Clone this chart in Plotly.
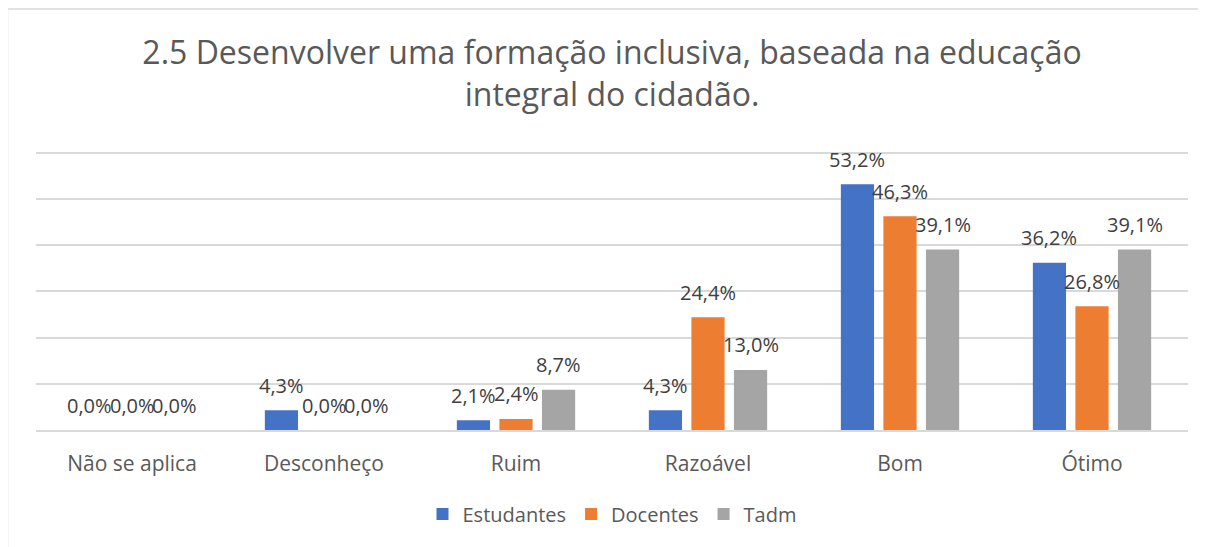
import plotly.graph_objects as go

categories = ["Não se aplica", "Desconheço", "Ruim", "Razoável", "Bom", "Ótimo"]
estudantes = [0.0, 4.3, 2.1, 4.3, 53.2, 36.2]
docentes = [0.0, 0.0, 2.4, 24.4, 46.3, 26.8]
tadm = [0.0, 0.0, 8.7, 13.0, 39.1, 39.1]
series_names = ["Estudantes", "Docentes", "Tadm"]
colors = ["#4472C4", "#ED7D31", "#A5A5A5"]
title_text = "2.5 Desenvolver uma formação inclusiva, baseada na educação<br>integral do cidadão."

# the page body adds an 8px offset, so the figure is 8px smaller
OFF = 8
W, H = 1206 - OFF, 547 - OFF
Y_TOP = 60          # top gridline value
Y_MAX = 61.5        # axis range top (so top gridline is drawn)
GRID_H = 277        # px between 0 and 60 gridlines
ML, MR, MB = 36 - OFF, 18, 117
MT = (153 - OFF) - GRID_H * (Y_MAX - Y_TOP) / Y_TOP
BARGAP = 0.335
BARGROUPGAP = 0.22
FONT = "Open Sans"

fig = go.Figure()
all_series = [estudantes, docentes, tadm]
for name, vals, col in zip(series_names, all_series, colors):
    fig.add_trace(go.Bar(x=categories, y=vals, name=name, marker_color=col,
                         marker_line_width=0))

# data labels
plot_w = W - ML - MR
plot_h = H - MT - MB
cat_w = plot_w / len(categories)
slot = cat_w * (1 - BARGAP) / 3
for i, vals in enumerate(all_series):
    for c, v in zip(categories, vals):
        fig.add_annotation(x=c, y=v, xref="x", yref="y",
                           text=f"{v:.1f}%".replace(".", ","),
                           showarrow=False, xshift=(i - 1) * slot, yshift=25,
                           yanchor="middle",
                           font=dict(family=FONT, size=20, color="#404040"))

# chart frame
fx = (7.5 - OFF - ML) / plot_w
fy = 1 + (MT - (9 - OFF)) / plot_h
fig.add_shape(type="line", xref="paper", yref="paper",
              x0=fx, x1=fx, y0=fy, y1=-0.6,
              line=dict(color="#D9D9D9", width=1.5))
fig.add_shape(type="line", xref="paper", yref="paper",
              x0=fx, x1=1.1, y0=fy, y1=fy,
              line=dict(color="#D9D9D9", width=1.5))

fig.update_layout(
    width=W, height=H,
    margin=dict(l=ML, r=MR, t=MT, b=MB),
    paper_bgcolor="white", plot_bgcolor="white",
    barmode="group", bargap=BARGAP, bargroupgap=BARGROUPGAP,
    title=dict(text=title_text, x=(ML + plot_w / 2) / W, xanchor="center",
               y=1 - 56 / H, yanchor="middle",
               font=dict(family=FONT, size=32, color="#595959")),
    legend=dict(orientation="h", x=0.5, xanchor="center",
                y=-(514 - 430) / plot_h, yanchor="middle",
                font=dict(family=FONT, size=20, color="#595959"),
                traceorder="normal"),
    showlegend=True,
)
fig.update_xaxes(showgrid=False, showline=True, linecolor="#D9D9D9", linewidth=1.5,
                 ticks="", ticklabelstandoff=14,
                 tickfont=dict(family=FONT, size=21, color="#595959"))
fig.update_yaxes(range=[0, Y_MAX], tickvals=[10, 20, 30, 40, 50, 60], showgrid=True,
                 gridcolor="#D9D9D9", gridwidth=1.5, showticklabels=False,
                 zeroline=False, showline=False)

fig.write_html("out.html")
